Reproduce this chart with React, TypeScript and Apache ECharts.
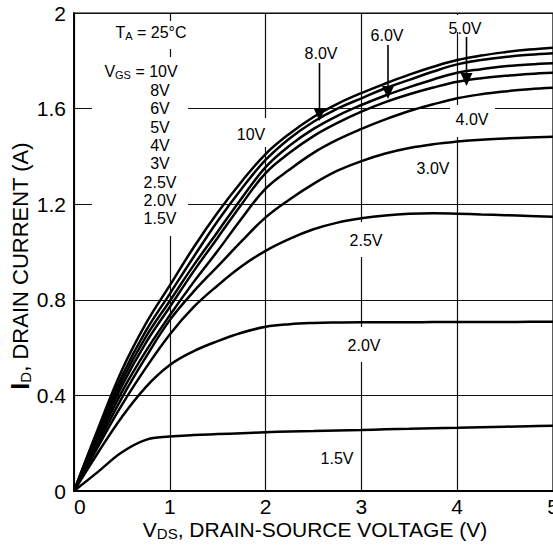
import React, { useEffect, useRef } from "react";
import * as echarts from "echarts";

// Drain-source voltage samples (V)
const vds = [0, 0.25, 0.5, 0.75, 1, 1.25, 1.5, 1.75, 2, 2.25, 2.5, 2.75, 3, 3.25, 3.5, 3.75, 4, 4.25, 4.5, 4.75, 5];

// Drain current (A) for each gate-source voltage
const idVgs10 = [0, 0.26, 0.505, 0.7, 0.86, 1.02, 1.165, 1.295, 1.41, 1.495, 1.565, 1.62, 1.665, 1.705, 1.742, 1.775, 1.803, 1.822, 1.836, 1.847, 1.855];
const idVgs8 = [0, 0.25, 0.48, 0.67, 0.825, 0.98, 1.13, 1.265, 1.385, 1.475, 1.545, 1.6, 1.643, 1.685, 1.72, 1.755, 1.785, 1.803, 1.816, 1.825, 1.832];
const idVgs6 = [0, 0.235, 0.46, 0.645, 0.795, 0.945, 1.085, 1.225, 1.355, 1.445, 1.515, 1.57, 1.615, 1.655, 1.69, 1.722, 1.75, 1.765, 1.777, 1.785, 1.79];
const idVgs5 = [0, 0.225, 0.44, 0.62, 0.77, 0.92, 1.06, 1.2, 1.33, 1.415, 1.485, 1.54, 1.587, 1.627, 1.66, 1.688, 1.712, 1.727, 1.737, 1.745, 1.75];
const idVgs4 = [0, 0.215, 0.415, 0.585, 0.735, 0.875, 1.005, 1.14, 1.265, 1.345, 1.415, 1.47, 1.515, 1.555, 1.59, 1.618, 1.643, 1.66, 1.672, 1.681, 1.687];
const idVgs3 = [0, 0.2, 0.39, 0.56, 0.715, 0.835, 0.94, 1.045, 1.145, 1.22, 1.285, 1.34, 1.38, 1.412, 1.435, 1.451, 1.462, 1.47, 1.475, 1.479, 1.482];
const idVgs2p5 = [0, 0.185, 0.36, 0.515, 0.655, 0.77, 0.86, 0.94, 1.005, 1.055, 1.095, 1.123, 1.141, 1.153, 1.16, 1.162, 1.16, 1.157, 1.154, 1.151, 1.148];
const idVgs2 = [0, 0.16, 0.31, 0.435, 0.527, 0.585, 0.627, 0.662, 0.687, 0.698, 0.703, 0.705, 0.706, 0.706, 0.706, 0.707, 0.707, 0.707, 0.707, 0.708, 0.708];
const idVgs1p5 = [0, 0.08, 0.162, 0.214, 0.228, 0.234, 0.238, 0.242, 0.246, 0.249, 0.251, 0.253, 0.255, 0.258, 0.26, 0.263, 0.265, 0.267, 0.269, 0.271, 0.273];

const curveNames = ["10V", "8V", "6V", "5V", "4V", "3V", "2.5V", "2.0V", "1.5V"];
const curveValues = [idVgs10, idVgs8, idVgs6, idVgs5, idVgs4, idVgs3, idVgs2p5, idVgs2, idVgs1p5];

// Gate voltage list printed under the temperature note
const vgsList = ["8V", "6V", "5V", "4V", "3V", "2.5V", "2.0V", "1.5V"];

const FONT = "'Liberation Sans', Arial, Helvetica, sans-serif";

function label(text: string, x: number, y: number, size = 16, rich?: any) {
  return {
    type: "text",
    z: 20,
    x,
    y,
    style: {
      text,
      fill: "#000",
      fontFamily: FONT,
      fontSize: size,
      align: "center",
      textAlign: "center",
      verticalAlign: "middle",
      textVerticalAlign: "middle",
      rich,
    },
  };
}

function whiteBox(x: number, y: number, w: number, h: number) {
  return {
    type: "rect",
    z: 15,
    shape: { x, y, width: w, height: h },
    style: { fill: "#fff" },
  };
}

function arrow(x: number, yTop: number, yTip: number) {
  return [
    {
      type: "line",
      z: 20,
      shape: { x1: x, y1: yTop, x2: x, y2: yTip - 8 },
      style: { stroke: "#000", lineWidth: 1.6 },
    },
    {
      type: "polygon",
      z: 20,
      shape: {
        points: [
          [x - 6, yTip - 13],
          [x + 6, yTip - 13],
          [x, yTip],
        ],
      },
      style: { fill: "#000" },
    },
  ];
}

function subRich(size: number, subSize: number, lh: number) {
  return {
    n: { fontSize: size, fontFamily: FONT, fill: "#000", lineHeight: lh, verticalAlign: "middle" },
    b: { fontSize: size + 3, fontFamily: FONT, fontWeight: "bold", fill: "#000", lineHeight: lh, verticalAlign: "middle" },
    s: { fontSize: subSize, fontFamily: FONT, fill: "#000", lineHeight: subSize + 1, verticalAlign: "bottom" },
  };
}

export default function App() {
  const ref = useRef<HTMLDivElement>(null);

  useEffect(() => {
    document.body.style.margin = "0";
    if (!ref.current) return;
    const chart = echarts.init(ref.current, undefined, { renderer: "svg" });

    const series = curveNames.map((name, i) => ({
      name,
      type: "line",
      data: vds.map((v, j) => [v, curveValues[i][j]]),
      showSymbol: false,
      smooth: 0.4,
      lineStyle: { color: "#000", width: 2.5 },
      z: 5,
    }));

    const graphics: any[] = [
      // masks that break the grid lines behind the annotations
      whiteBox(92, 21, 96, 28),
      whiteBox(92, 57, 96, 179),
      whiteBox(234, 118, 34, 29),
      whiteBox(446, 15, 38, 17),
      whiteBox(450, 105, 45, 32),
      whiteBox(348, 222, 36, 35),
      whiteBox(346, 327, 36, 35),

      label("{n|T}{s|A}{n| = 25°C}", 151, 32, 16, subRich(16, 11, 18)),
      label("{n|V}{s|GS}{n| = 10V}", 141, 71, 16, subRich(16, 11, 18)),
      ...vgsList.map((t, i) => label(t, 160, 90.5 + i * 18.3, 16)),

      label("10V", 251, 134),
      label("8.0V", 321, 53),
      label("6.0V", 387, 35),
      label("5.0V", 465, 28),
      label("4.0V", 472, 119),
      label("3.0V", 433, 168),
      label("2.5V", 366, 240),
      label("2.0V", 364, 345),
      label("1.5V", 337, 458),

      ...arrow(319.5, 63, 121),
      ...arrow(388, 45, 99),
      ...arrow(466.5, 37, 86),

      // axis titles
      label("{n|V}{s|DS}{n|, DRAIN-SOURCE VOLTAGE (V)}", 315, 529, 21, subRich(21, 15, 24)),
      {
        ...label("{b|I}{s|D}{n|, DRAIN CURRENT (A)}", 20, 266, 22, subRich(22, 15, 25)),
        rotation: Math.PI / 2,
      },
    ];

    chart.setOption({
      animation: false,
      backgroundColor: "#fff",
      grid: {
        left: 74,
        top: 13,
        width: 479,
        height: 478,
        outerBoundsMode: "none",
        containLabel: false,
        show: true,
        borderColor: "#000",
        borderWidth: 1.2,
        backgroundColor: "transparent",
      },
      xAxis: {
        type: "value",
        min: 0,
        max: 5,
        interval: 1,
        axisLine: { show: true, lineStyle: { color: "#000", width: 1.8 } },
        axisTick: { show: false },
        splitLine: { show: true, lineStyle: { color: "#111", width: 1.2 } },
        axisLabel: {
          color: "#000",
          fontFamily: FONT,
          fontSize: 21,
          margin: 5,
          alignMinLabel: "left",
        },
      },
      yAxis: {
        type: "value",
        min: 0,
        max: 2,
        interval: 0.4,
        axisLine: { show: true, lineStyle: { color: "#000", width: 1.8 } },
        axisTick: { show: false },
        splitLine: { show: true, lineStyle: { color: "#111", width: 1.2 } },
        axisLabel: {
          color: "#000",
          fontFamily: FONT,
          fontSize: 21,
          margin: 8,
          formatter: (v: number) => String(Math.round(v * 10) / 10),
        },
      },
      series,
      graphic: { elements: graphics },
    });

    return () => chart.dispose();
  }, []);

  return <div ref={ref} style={{ width: 553, height: 546 }} />;
}
